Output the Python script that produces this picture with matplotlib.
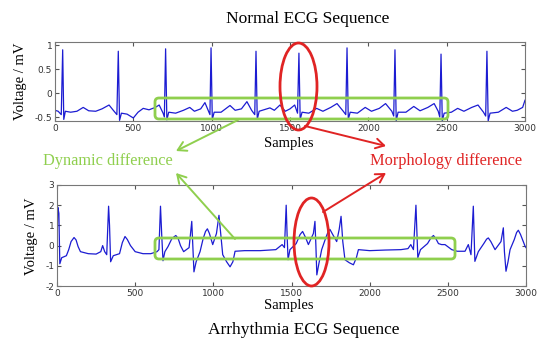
import matplotlib
matplotlib.use("Agg")
import matplotlib.pyplot as plt
from matplotlib.patches import Ellipse, FancyBboxPatch

# --- data (sample index, mV) ---
normal_x = [0, 20, 40, 49, 56, 66, 100, 140, 180, 215, 260, 300, 345, 372, 395, 404, 412, 424,
            460, 500, 530, 563, 600, 640, 665, 690, 698, 706, 714, 726, 770, 820, 860, 890, 930,
            957, 980, 989, 996, 1004, 1016, 1060, 1117, 1150, 1190, 1225, 1255, 1275, 1283, 1291,
            1303, 1372, 1400, 1436, 1470, 1500, 1530, 1548, 1557, 1565, 1577, 1620, 1670, 1710,
            1760, 1800, 1840, 1856, 1864, 1872, 1884, 1930, 1980, 2020, 2070, 2110, 2150, 2162,
            2170, 2178, 2190, 2240, 2290, 2330, 2380, 2420, 2446, 2456, 2464, 2472, 2484, 2530,
            2570, 2610, 2660, 2700, 2735, 2749, 2757, 2765, 2777, 2830, 2880, 2920, 2950, 2985, 3000]
normal_mv = [-0.36, -0.38, -0.45, 0.90, -0.55, -0.38, -0.40, -0.38, -0.30, -0.37, -0.38, -0.33,
             -0.25, -0.36, -0.45, 0.87, -0.57, -0.42, -0.44, -0.52, -0.40, -0.32, -0.35, -0.30,
             -0.25, -0.42, -0.50, 0.92, -0.56, -0.40, -0.42, -0.36, -0.30, -0.38, -0.33, -0.20,
             -0.38, -0.45, 0.94, -0.55, -0.40, -0.40, -0.26, -0.36, -0.33, -0.18, -0.36, -0.45,
             0.87, -0.55, -0.38, -0.31, -0.36, -0.25, -0.38, -0.33, -0.25, -0.42, 0.83, -0.55,
             -0.40, -0.42, -0.32, -0.38, -0.30, -0.22, -0.38, -0.45, 0.94, -0.55, -0.40, -0.42,
             -0.30, -0.38, -0.32, -0.22, -0.38, -0.48, 0.90, -0.58, -0.40, -0.40, -0.28, -0.37,
             -0.30, -0.22, -0.38, -0.50, 0.81, -0.58, -0.42, -0.40, -0.32, -0.38, -0.30, -0.25,
             -0.40, -0.48, 0.87, -0.58, -0.42, -0.40, -0.30, -0.38, -0.36, -0.30, -0.15]

arrhythmia_x = [0, 5, 12, 18, 30, 60, 75, 90, 109, 122, 135, 150, 200, 250, 280, 292, 305, 318,
                330, 336, 343, 360, 400, 418, 435, 450, 470, 500, 550, 600, 640, 652, 662, 670,
                678, 690, 710, 735, 760, 775, 790, 810, 845, 862, 869, 876, 890, 915, 935, 950,
                962, 975, 996, 1020, 1036, 1048, 1060, 1085, 1107, 1125, 1139, 1200, 1300, 1400,
                1440, 1455, 1466, 1472, 1478, 1490, 1530, 1555, 1571, 1590, 1608, 1640, 1650,
                1656, 1662, 1675, 1693, 1720, 1735, 1746, 1760, 1789, 1805, 1817, 1828, 1842,
                1870, 1896, 1915, 1928, 2000, 2100, 2200, 2245, 2263, 2280, 2296, 2303, 2308,
                2325, 2370, 2392, 2408, 2425, 2440, 2460, 2482, 2525, 2560, 2610, 2631, 2648,
                2663, 2668, 2673, 2695, 2730, 2748, 2759, 2775, 2802, 2840, 2855, 2862, 2872,
                2885, 2898, 2925, 2940, 2951, 2965, 2994, 3000]
arrhythmia_mv = [-0.3, 1.9, 1.6, -0.9, -0.6, -0.5, -0.2, 0.2, 0.4, 0.28, -0.05, -0.3, -0.4,
                 -0.42, -0.3, 0.0, -0.3, -0.45, 1.95, 1.0, -0.8, -0.5, -0.4, 0.15, 0.45, 0.3,
                 0.0, -0.3, -0.4, -0.4, -0.3, -0.2, 1.95, 0.5, -0.75, -0.3, -0.05, 0.35, 0.5,
                 0.35, 0.0, -0.3, -0.1, 1.2, 0.0, -1.3, -0.8, -0.3, 0.35, 0.7, 0.83, 0.6, 0.05,
                 0.6, 1.5, 0.5, -0.45, -0.8, -1.05, -0.8, -0.28, -0.25, -0.25, -0.2, 0.05, -0.1,
                 2.0, 0.5, -0.7, -0.2, 0.1, 0.55, 0.7, 0.4, 0.05, 0.6, 1.2, 0.0, -1.45, -0.9,
                 -0.2, 0.4, 0.7, 0.8, 0.6, 0.2, 0.8, 1.45, 0.2, -0.7, -0.85, -0.95, -0.6, -0.2,
                 -0.25, -0.22, -0.2, -0.15, 0.05, -0.2, 2.0, 0.5, -0.6, -0.2, 0.1, 0.38, 0.5,
                 0.32, 0.1, 0.05, 0.05, -0.2, -0.28, -0.28, 0.05, -0.45, 1.95, 0.5, -0.78, -0.3,
                 0.1, 0.32, 0.38, 0.2, -0.2, 0.2, 0.88, -0.3, -1.27, -0.8, -0.2, 0.3, 0.65,
                 0.76, 0.55, -0.03, -0.1]

x_ticks = [0, 500, 1000, 1500, 2000, 2500, 3000]
normal_yticks = [-0.5, 0, 0.5, 1]
arrhythmia_yticks = [-2, -1, 0, 1, 2, 3]

line_col = "#1c1cd2"
green = "#8fcf4e"
red = "#e02424"
serif = ["Liberation Serif", "DejaVu Serif"]

fig = plt.figure(figsize=(5.38, 3.4), dpi=100)
fig.patch.set_facecolor("white")

def style(ax, yticks):
    ax.set_xlim(0, 3000)
    ax.set_xticks(x_ticks)
    ax.set_yticks(yticks)
    ax.set_yticklabels([f"{t:g}" for t in yticks])
    ax.tick_params(direction="in", top=True, right=True, length=3, width=0.8,
                   labelsize=6.5, labelcolor="#333333", color="#555555", pad=2)
    for s in ax.spines.values():
        s.set_color("#777777")
        s.set_linewidth(0.8)

ax1 = fig.add_axes([55 / 538, 1 - 121 / 340, 470 / 538, 79 / 340])
ax1.plot(normal_x, normal_mv, color=line_col, lw=0.9)
ax1.set_ylim(-0.583, 1.0625)
style(ax1, normal_yticks)

ax2 = fig.add_axes([57 / 538, 1 - 286 / 340, 469 / 538, 101 / 340])
ax2.plot(arrhythmia_x, arrhythmia_mv, color=line_col, lw=0.9)
ax2.set_ylim(-2, 3)
style(ax2, arrhythmia_yticks)

# overlay in pixel coordinates for labels and annotations
ov = fig.add_axes([0, 0, 1, 1], zorder=10)
ov.set_xlim(0, 538); ov.set_ylim(340, 0); ov.axis("off")
ov.patch.set_alpha(0)

ov.text(308, 19, "Normal ECG Sequence", family=serif, fontsize=12.5, ha="center", va="center")
ov.text(304, 330, "Arrhythmia ECG Sequence", family=serif, fontsize=12.5, ha="center", va="center")
ov.text(289, 144, "Samples", family=serif, fontsize=10.5, ha="center", va="center")
ov.text(289, 305, "Samples", family=serif, fontsize=10.5, ha="center", va="center")
ov.text(21, 81, "Voltage / mV", family=serif, fontsize=10.5, rotation=90, ha="center", va="center")
ov.text(32, 236, "Voltage / mV", family=serif, fontsize=10.5, rotation=90, ha="center", va="center")
ov.text(108, 161, "Dynamic difference", family=serif, fontsize=11.8, color=green, ha="center", va="center")
ov.text(446, 161, "Morphology difference", family=serif, fontsize=11.8, color=red, ha="center", va="center")

for x0, y0, x1, y1 in [(155, 98, 448, 119), (155, 238, 455, 259)]:
    ov.add_patch(FancyBboxPatch((x0, y0), x1 - x0, y1 - y0, boxstyle="round,pad=0,rounding_size=4",
                                fill=False, ec=green, lw=2))
for cx, cy, w, h in [(298.5, 86.5, 37, 87), (311.5, 242, 35, 88)]:
    ov.add_patch(Ellipse((cx, cy), w, h, fill=False, ec=red, lw=2))

arrow = dict(arrowstyle="->,head_length=0.6,head_width=0.35", lw=1.4, shrinkA=0, shrinkB=0)
ov.annotate("", xy=(176, 151), xytext=(238, 120), arrowprops=dict(arrow, color=green))
ov.annotate("", xy=(176, 173), xytext=(235, 239), arrowprops=dict(arrow, color=green))
ov.annotate("", xy=(386, 146), xytext=(305, 126), arrowprops=dict(arrow, color=red))
ov.annotate("", xy=(386, 173), xytext=(323, 212), arrowprops=dict(arrow, color=red))

fig.savefig("out.png", dpi=100)
